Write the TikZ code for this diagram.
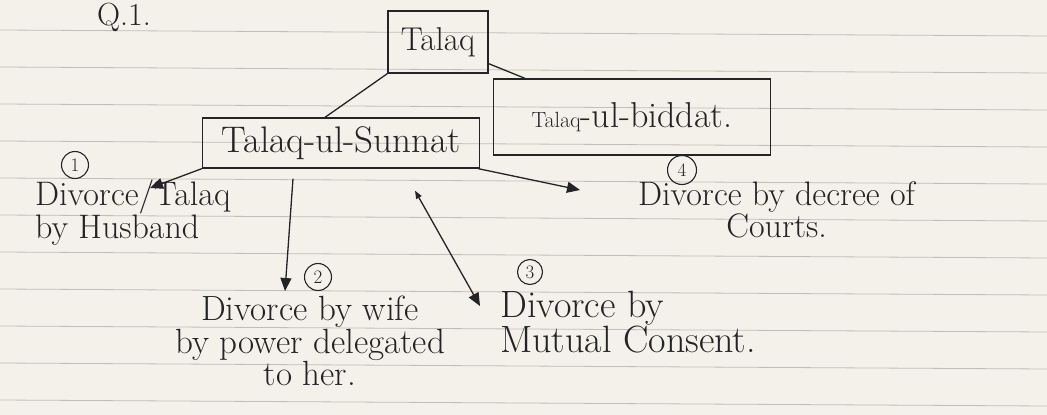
\documentclass[tikz,border=0pt]{standalone}
\usepackage{fontspec}
\usetikzlibrary{arrows.meta}
\definecolor{paper}{RGB}{243,241,233}
\definecolor{ink}{RGB}{35,35,40}
\definecolor{ruled}{RGB}{192,190,184}
\begin{document}
\begin{tikzpicture}[x=1pt,y=-1pt,
  box/.style={draw=ink, line width=1.3pt, inner sep=0pt, text=ink},
  lbl/.style={text=ink, font=\fontsize{34}{32}\selectfont, inner sep=0pt},
  num/.style={circle, draw=ink, line width=1.1pt, inner sep=0pt, minimum size=27pt, font=\fontsize{19}{19}\selectfont, text=ink},
  arr/.style={draw=ink, line width=1.3pt, -{Triangle[length=13pt,width=11pt]}},
  darr/.style={draw=ink, line width=1.3pt, {Triangle[length=8pt,width=6pt]}-{Triangle[length=13pt,width=11pt]}},
  con/.style={draw=ink, line width=1.3pt}]
\fill[paper] (0,0) rectangle (1047,415);
\useasboundingbox (0,0) rectangle (1047,415);
\foreach \y in {30,67,...,400} \draw[ruled, line width=0.8pt] (0,\y) -- (1047,\y+6);

\node[lbl, font=\fontsize{32}{32}\selectfont] (q) at (124,17) {Q.1.};

\node[box, minimum width=100pt, minimum height=62pt, font=\fontsize{33}{33}\selectfont] (talaq) at (438,42) {Talaq};
\node[box, minimum width=277pt, minimum height=50pt, font=\fontsize{37}{37}\selectfont] (sunnat) at (341,143) {Talaq-ul-Sunnat};
\node[box, minimum width=277pt, minimum height=76pt, font=\fontsize{36}{36}\selectfont] (biddat) at (632,117) {{\fontsize{22}{22}\selectfont Talaq}-ul-biddat.};

\node[lbl, anchor=north west, align=left] (husband) at (35,180) {Divorce/Talaq\\by Husband};
\node[lbl, anchor=north, align=center, font=\fontsize{35}{30}\selectfont] (wife) at (310,296) {Divorce by wife\\by power delegated\\to her.};
\node[lbl, anchor=north west, align=left, font=\fontsize{38}{33}\selectfont] (mutual) at (500,291) {Divorce by\\Mutual Consent.};
\node[lbl, anchor=west, align=center] (decree) at (638,210) {Divorce by decree of\\Courts.};

\node[num] (n1) at (75,165) {1};
\node[num] (n2) at (318,277) {2};
\node[num, minimum size=25pt] (n3) at (530,272) {3};
\node[num, minimum size=29pt] (n4) at (682,170) {4};

\draw[con] (talaq.south west) -- ([xshift=-16pt]sunnat.north);
\draw[con] ([yshift=10pt]talaq.south east) -- ([xshift=-107pt]biddat.north);

\draw[arr] (sunnat.south west) -- ([xshift=115pt,yshift=-8pt]husband.north west);
\draw[arr] ([xshift=-48pt,yshift=-10pt]sunnat.south) -- ([xshift=-25pt,yshift=5pt]wife.north);
\draw[darr] ([xshift=74pt,yshift=-22pt]sunnat.south) -- ([xshift=-20pt,yshift=-15pt]mutual.north west);
\draw[arr] ([xshift=-2pt]sunnat.south east) -- ([xshift=-58pt,yshift=20pt]decree.west);
\end{tikzpicture}
\end{document}
